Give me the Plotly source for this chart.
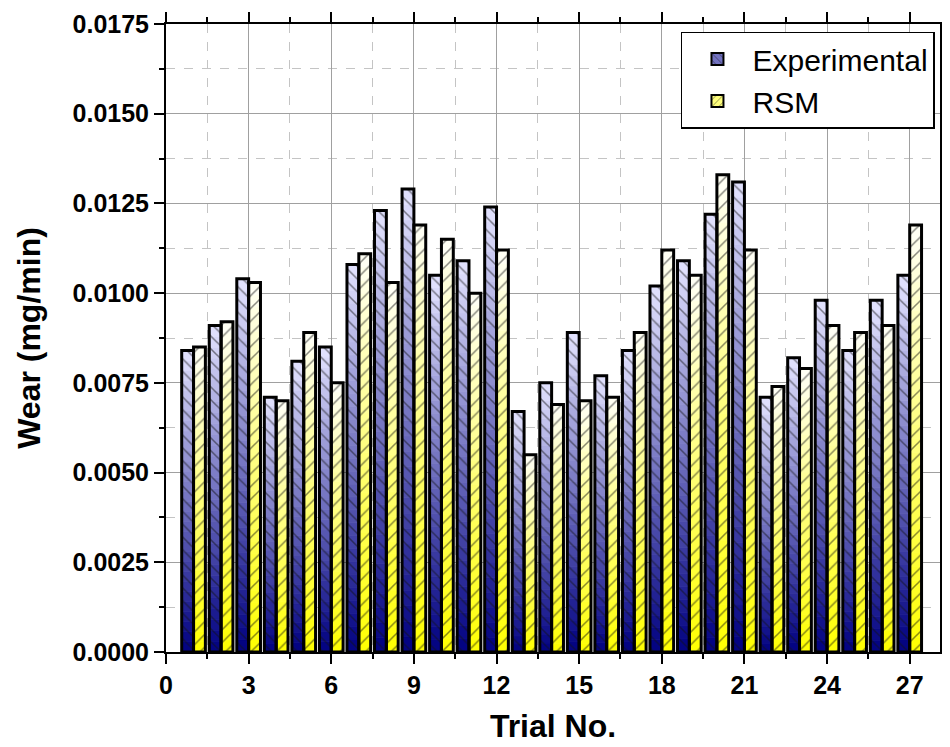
import numpy as np
import plotly.graph_objects as go

# ---------------- data ----------------
trials = list(range(1, 28))
experimental = [0.0084, 0.0091, 0.0104, 0.0071, 0.0081, 0.0085, 0.0108, 0.0123, 0.0129,
                0.0105, 0.0109, 0.0124, 0.0067, 0.0075, 0.0089, 0.0077, 0.0084, 0.0102,
                0.0109, 0.0122, 0.0131, 0.0071, 0.0082, 0.0098, 0.0084, 0.0098, 0.0105]
rsm = [0.0085, 0.0092, 0.0103, 0.0070, 0.0089, 0.0075, 0.0111, 0.0103, 0.0119,
       0.0115, 0.0100, 0.0112, 0.0055, 0.0069, 0.0070, 0.0071, 0.0089, 0.0112,
       0.0105, 0.0133, 0.0112, 0.0074, 0.0079, 0.0091, 0.0089, 0.0091, 0.0119]
series_names = ["Experimental", "RSM"]
x_tick_step = 3
y_tick_step = 0.0025
x_range = [0, 28.1]
y_range = [0, 0.0175]

# ---------------- styles ----------------
EXP_BOTTOM, EXP_TOP = (0, 0, 128), (228, 228, 255)
RSM_BOTTOM, RSM_TOP = (255, 255, 0), (255, 255, 248)
N_SLICES = 30
BAR_W = 0.43
FONT = "Liberation Sans"


def mix(c0, c1, t):
    return "rgb(%d,%d,%d)" % tuple(round(a + (b - a) * t) for a, b in zip(c0, c1))


fig = go.Figure()

# gradient fill built from stacked slices of each bar
for values, c0, c1, offset in [(experimental, EXP_BOTTOM, EXP_TOP, -BAR_W),
                               (rsm, RSM_BOTTOM, RSM_TOP, 0.0)]:
    vals = np.array(values)
    for k in range(N_SLICES):
        col = mix(c0, c1, (k + 0.5) / N_SLICES)
        fig.add_trace(go.Bar(
            x=trials, y=vals / N_SLICES, base=vals * k / N_SLICES,
            offset=offset, width=BAR_W,
            marker=dict(color=col, line=dict(color=col, width=0.8)),
            showlegend=False, hoverinfo="skip"))

# hatched outlines
for values, name, shape, offset in [(experimental, series_names[0], "\\", -BAR_W),
                                    (rsm, series_names[1], "/", 0.0)]:
    fig.add_trace(go.Bar(
        x=trials, y=values, offset=offset, width=BAR_W, name=name,
        marker=dict(color="rgba(0,0,0,0)",
                    line=dict(color="black", width=3),
                    pattern=dict(shape=shape, fgcolor="#111111",
                                 bgcolor="rgba(0,0,0,0)", size=9,
                                 solidity=0.17, fillmode="overlay")),
        showlegend=False))

# legend entries
for name, shape, c0, c1 in [(series_names[0], "\\", EXP_BOTTOM, EXP_TOP),
                            (series_names[1], "/", RSM_BOTTOM, RSM_TOP)]:
    fig.add_trace(go.Bar(
        x=[None], y=[None], name=name,
        marker=dict(color=mix(c0, c1, 0.5), line=dict(color="black", width=2),
                    pattern=dict(shape=shape, fgcolor="#111111", size=6,
                                 solidity=0.18, fillmode="overlay",
                                 bgcolor=mix(c0, c1, 0.5)))))

axis_common = dict(
    showline=True, linewidth=2, linecolor="black", mirror="ticks",
    ticks="outside", ticklen=10, tickwidth=2, tickcolor="black",
    showgrid=True, gridcolor="#a0a0a0", gridwidth=1, zeroline=False,
    automargin=False,
    tickfont=dict(family=FONT, size=25, color="black", weight="bold"),
)

fig.update_layout(
    width=950, height=747,
    margin=dict(l=158, r=18, t=16, b=103),
    paper_bgcolor="white", plot_bgcolor="white",
    barmode="overlay",
    font=dict(family=FONT, color="black"),
    xaxis=dict(
        range=x_range, tickmode="linear", tick0=0, dtick=x_tick_step,
        minor=dict(tickmode="linear", tick0=0, dtick=x_tick_step / 2,
                   ticks="outside", ticklen=5, tickwidth=2, tickcolor="black",
                   showgrid=True, gridcolor="#c4c4c4", griddash="dash", gridwidth=1),
        title=dict(text="Trial No.", standoff=17,
                   font=dict(family=FONT, size=32, color="black", weight="bold")),
        **axis_common),
    yaxis=dict(
        range=y_range, tickmode="linear", tick0=0, dtick=y_tick_step,
        tickformat=".4f",
        minor=dict(tickmode="linear", tick0=0, dtick=y_tick_step / 2,
                   ticks="outside", ticklen=5, tickwidth=2, tickcolor="black",
                   showgrid=True, gridcolor="#c4c4c4", griddash="dash", gridwidth=1),
        title=dict(text="Wear (mg/min)", standoff=22,
                   font=dict(family=FONT, size=32, color="black", weight="bold")),
        **axis_common),
    legend=dict(x=0.9935, xanchor="right", y=0.988, yanchor="top",
                bgcolor="white", bordercolor="black", borderwidth=1.5,
                font=dict(family=FONT, size=30, color="black"),
                tracegroupgap=0, itemwidth=60),
)

fig.write_html("out.html")
